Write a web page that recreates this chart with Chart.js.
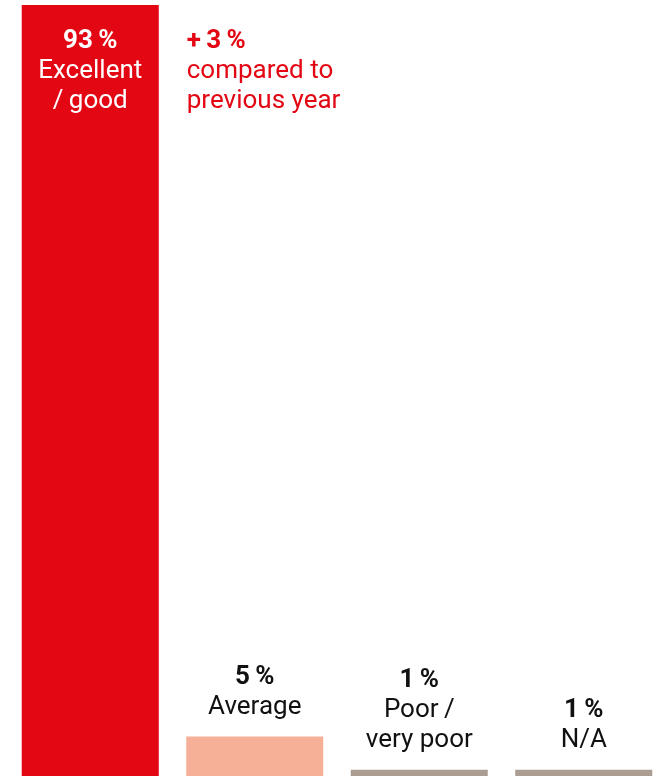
<!DOCTYPE html>
<html>
<head>
<meta charset="utf-8">
<script src="https://cdn.jsdelivr.net/npm/chart.js@4"></script>
<style>
  html, body { margin: 0; padding: 0; background: #fff; overflow: hidden; width: 659px; height: 776px; }
  #wrap { position: absolute; left: 0; top: 0; width: 666px; height: 778px; }
</style>
</head>
<body>
<div id="wrap"><canvas id="c"></canvas></div>
<script>
// ---- data ----
const categories = ["Excellent / good", "Average", "Poor / very poor", "N/A"];
const values = [93, 5, 1, 1];
const valueLabels = ["93\u2009%", "5\u2009%", "1\u2009%", "1\u2009%"];
const labelLines = [["Excellent", "/\u2009good"], ["Average"], ["Poor\u2009/", "very poor"], ["N/A"]];
const changeNote = ["+\u20093\u2009%", "compared to", "previous year"];
const barColors = ["#E30613", "#F5B097", "#AC9D93", "#AC9D93"];

const FONT = "Roboto, 'DejaVu Sans', sans-serif";
const SIZE = 26;
const LH = 30;

const labelPlugin = {
  id: "labelPlugin",
  afterDatasetsDraw(chart) {
    const ctx = chart.ctx;
    const meta = chart.getDatasetMeta(0);
    ctx.save();
    ctx.textBaseline = "alphabetic";
    meta.data.forEach((bar, i) => {
      const lines = [valueLabels[i]].concat(labelLines[i]);
      if (i === 0) {
        ctx.textAlign = "center";
        ctx.fillStyle = "#ffffff";
        lines.forEach((t, k) => {
          ctx.font = (k === 0 ? "bold " : "") + SIZE + "px " + FONT;
          ctx.fillText(t, bar.x, bar.y + 43 + k * LH);
        });
        // change note to the right of the first bar
        const left = bar.x + bar.width / 2 + 28;
        ctx.textAlign = "left";
        ctx.fillStyle = "#E30613";
        changeNote.forEach((t, k) => {
          ctx.font = (k === 0 ? "bold " : "") + SIZE + "px " + FONT;
          ctx.fillText(t, left, bar.y + 43 + k * LH);
        });
      } else {
        ctx.textAlign = "center";
        ctx.fillStyle = "#111111";
        const n = lines.length;
        lines.forEach((t, k) => {
          ctx.font = (k === 0 ? "bold " : "") + SIZE + "px " + FONT;
          ctx.fillText(t, bar.x, bar.y - 22.5 - (n - 1 - k) * LH);
        });
      }
    });
    ctx.restore();
  }
};

new Chart(document.getElementById("c"), {
  type: "bar",
  data: {
    labels: categories,
    datasets: [{
      data: values,
      backgroundColor: barColors,
      borderWidth: 0,
      barPercentage: 0.833,
      categoryPercentage: 1.0
    }]
  },
  options: {
    responsive: true,
    maintainAspectRatio: false,
    animation: false,
    layout: { padding: { left: 8, right: 0, top: 0, bottom: 0 } },
    plugins: { legend: { display: false }, tooltip: { enabled: false } },
    scales: {
      x: { display: false, offset: true },
      y: { display: false, min: 0, max: 93.6 }
    }
  },
  plugins: [labelPlugin]
});
</script>
</body>
</html>
